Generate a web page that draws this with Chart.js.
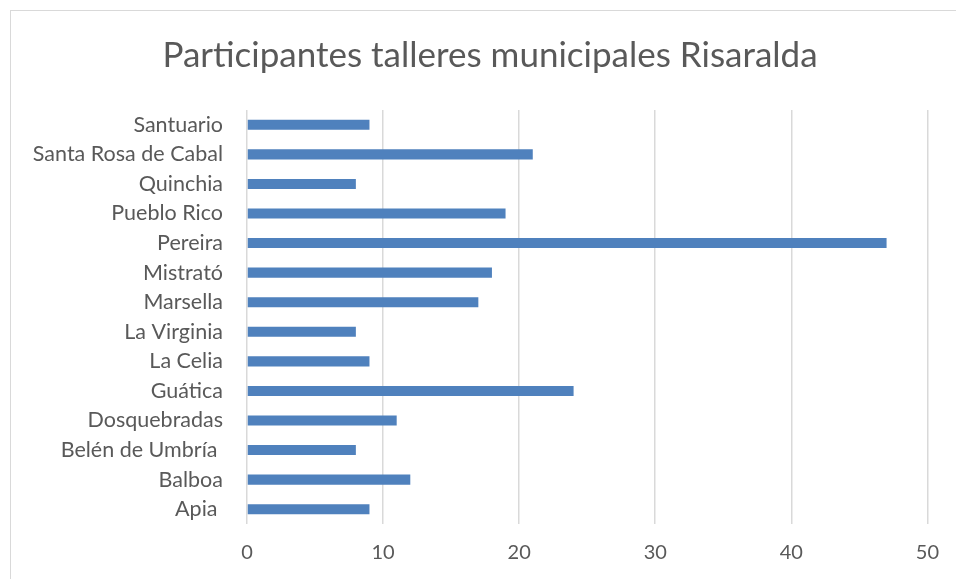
<!DOCTYPE html>
<html>
<head>
<meta charset="utf-8">
<script src="https://cdn.jsdelivr.net/npm/chart.js@4/dist/chart.umd.min.js"></script>
<style>
    html, body { margin: 0; padding: 0; background: #fff; overflow: hidden; }
    #frame {
        position: absolute; left: 10px; top: 10px;
        width: 1000px; height: 700px;
        border: 1px solid #d9d9d9;
    }
    #wrap { position: absolute; left: 0; top: 0; width: 956px; height: 579px; }
</style>
</head>
<body>
<div id="frame"></div>
<div id="wrap"><canvas id="chart" width="956" height="579"></canvas></div>
<script>
// datos del gráfico
const titulo = 'Participantes talleres municipales Risaralda';
const municipios = [
    'Santuario', 'Santa Rosa de Cabal', 'Quinchia', 'Pueblo Rico', 'Pereira',
    'Mistrató', 'Marsella', 'La Virginia', 'La Celia', 'Guática',
    'Dosquebradas', 'Belén de Umbría ', 'Balboa', 'Apia '
];
const participantes = [9, 21, 8, 19, 47, 18, 17, 8, 9, 24, 11, 8, 12, 9];
const ejeMin = 0;
const ejeMax = 50;
const ejePaso = 10;

const textColor = '#595959';
const gridColor = '#d9d9d9';
const fontFamily = 'Lato, "Open Sans", sans-serif';

// el título va un poco a la derecha del centro, como en el original
const tituloPlugin = {
    id: 'tituloCentrado',
    afterDraw(chart) {
        const c = chart.ctx;
        c.save();
        c.fillStyle = textColor;
        c.font = `35px ${fontFamily}`;
        c.textAlign = 'center';
        c.textBaseline = 'middle';
        c.fillText(titulo, 490, 56);
        c.restore();
    }
};

const ctx = document.getElementById('chart').getContext('2d');
new Chart(ctx, {
    type: 'bar',
    data: {
        labels: municipios,
        datasets: [{
            data: participantes,
            backgroundColor: '#4f81bd',
            borderWidth: 0,
            categoryPercentage: 1,
            barPercentage: 0.34
        }]
    },
    plugins: [tituloPlugin],
    options: {
        indexAxis: 'y',
        responsive: false,
        animation: false,
        layout: { padding: { left: 0, right: 27, top: 110, bottom: 0 } },
        plugins: {
            legend: { display: false },
            tooltip: { enabled: false },
            title: { display: false }
        },
        scales: {
            x: {
                min: ejeMin,
                max: ejeMax,
                ticks: {
                    stepSize: ejePaso,
                    color: textColor,
                    font: { family: fontFamily, size: 20 },
                    padding: 17
                },
                grid: { color: gridColor, lineWidth: 1.5, drawTicks: false },
                border: { display: false },
                afterFit: (scale) => { scale.height = 55; }
            },
            y: {
                ticks: {
                    color: textColor,
                    font: { family: fontFamily, size: 21.5 },
                    padding: 16
                },
                grid: { display: false },
                border: { display: false },
                afterFit: (scale) => { scale.width = 247; }
            }
        }
    }
});
</script>
</body>
</html>
